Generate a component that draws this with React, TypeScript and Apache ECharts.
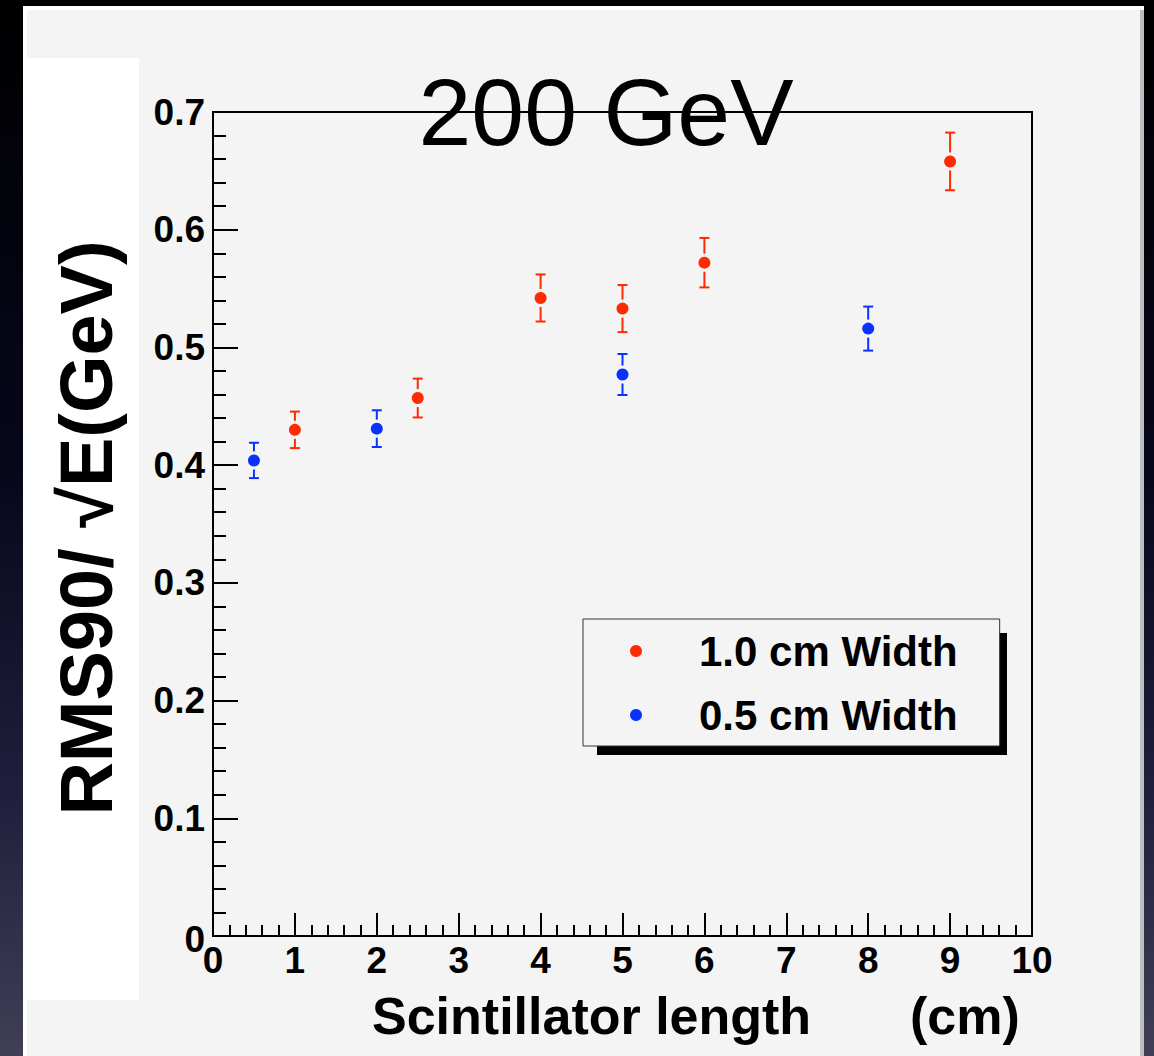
import React, { useEffect, useRef } from "react";
import * as echarts from "echarts";

const FONT = "'Liberation Sans', Arial, Helvetica, sans-serif";

const titleText = "200 GeV";
const xTitle = "Scintillator length";
const xUnit = "(cm)";
const yTitle = "RMS90/ \u221AE(GeV)";
const seriesNames = ["1.0 cm Width", "0.5 cm Width"];
const seriesColors = ["#ff2a00", "#0a32ff"];

const redX = [1, 2.5, 4, 5, 6, 9];
const redY = [0.430, 0.457, 0.542, 0.533, 0.572, 0.658];
const redErr = [0.0155, 0.0165, 0.020, 0.020, 0.021, 0.0245];

const blueX = [0.5, 2, 5, 8];
const blueY = [0.404, 0.431, 0.477, 0.516];
const blueErr = [0.015, 0.0156, 0.0174, 0.0187];

const xMin = 0, xMax = 10, xStep = 1;
const yMin = 0, yMax = 0.7, yStep = 0.1;

function errRender(color: string) {
  return (params: any, api: any) => {
    const x = api.value(0), y = api.value(1), e = api.value(2);
    const c = api.coord([x, y]);
    const top = api.coord([x, y + e]);
    const bot = api.coord([x, y - e]);
    const gap = 9, half = 5;
    const st = { stroke: color, lineWidth: 2 };
    const children: any[] = [];
    if (c[1] - gap > top[1]) children.push({ type: "line", shape: { x1: c[0], y1: top[1], x2: c[0], y2: c[1] - gap }, style: st });
    children.push({ type: "line", shape: { x1: c[0] - half, y1: top[1], x2: c[0] + half, y2: top[1] }, style: st });
    if (c[1] + gap < bot[1]) children.push({ type: "line", shape: { x1: c[0], y1: c[1] + gap, x2: c[0], y2: bot[1] }, style: st });
    children.push({ type: "line", shape: { x1: c[0] - half, y1: bot[1], x2: c[0] + half, y2: bot[1] }, style: st });
    return { type: "group", children };
  };
}

export default function App() {
  const ref = useRef<HTMLDivElement>(null);
  useEffect(() => {
    const chart = echarts.init(ref.current!, undefined, { renderer: "svg" });
    const tickLine = { color: "#000", width: 2 };
    const labelStyle = { fontSize: 37, fontWeight: "bold" as const, color: "#000", fontFamily: FONT };
    const option: any = {
      animation: false,
      backgroundColor: new echarts.graphic.LinearGradient(0, 0, 0, 1, [
        { offset: 0, color: "#000000" },
        { offset: 0.45, color: "#07071c" },
        { offset: 0.75, color: "#1f1f3d" },
        { offset: 1, color: "#403f57" },
      ]),
      grid: { left: 213, top: 112, right: 122, bottom: 120, show: false },
      xAxis: {
        type: "value", min: xMin, max: xMax, interval: xStep,
        axisLine: { show: true, lineStyle: tickLine },
        axisTick: { show: true, inside: true, length: 23, lineStyle: tickLine },
        minorTick: { show: true, splitNumber: 5, length: 11, lineStyle: tickLine },
        splitLine: { show: false },
        axisLabel: { ...labelStyle, margin: 6 },
      },
      yAxis: {
        type: "value", min: yMin, max: yMax, interval: yStep,
        axisLine: { show: true, lineStyle: tickLine },
        axisTick: { show: true, inside: true, length: 25, lineStyle: tickLine },
        minorTick: { show: true, splitNumber: 5, length: 13, lineStyle: tickLine },
        splitLine: { show: false },
        axisLabel: {
          ...labelStyle, margin: 8,
          formatter: (v: number) => (v === 0 ? "{zero|0}" : v.toFixed(1)),
          rich: { zero: { ...labelStyle, padding: [6, 0, 0, 0] } },
        },
      },
      legend: {
        orient: "vertical", left: 583, top: 619,
        data: [
          { name: seriesNames[0], icon: "circle" },
          { name: seriesNames[1], icon: "circle" },
        ],
        itemWidth: 12, itemHeight: 12, itemGap: 14,
        padding: [7, 42, 6, 47],
        backgroundColor: "#f4f4f4", borderColor: "#333", borderWidth: 1,
        selectedMode: false,
        textStyle: { fontSize: 42, fontWeight: "bold", color: "#000", fontFamily: FONT, padding: [0, 0, 0, 52], lineHeight: 50 },
      },
      graphic: [
        { type: "rect", z: -20, shape: { x: 23, y: 6, width: 1121, height: 1060 }, style: { fill: "#ffffff" } },
        { type: "rect", z: -19, shape: { x: 27, y: 10, width: 1113, height: 1056 }, style: { fill: "#f4f4f4" } },
        { type: "rect", z: -19, shape: { x: 1140, y: 10, width: 4, height: 1056 }, style: { fill: "#bdbdbd" } },
        { type: "rect", z: -18, shape: { x: 27, y: 58, width: 112, height: 942 }, style: { fill: "#ffffff" } },
        { type: "rect", z: 1, shape: { x: 597, y: 633, width: 410, height: 122 }, style: { fill: "#000" } },
        { type: "text", z: 5, style: { text: titleText, x: 606, y: 112, align: "center", verticalAlign: "middle", fontSize: 95, fontFamily: FONT, fill: "#000" } },
        { type: "rect", z: 10, shape: { x: 213, y: 112, width: 819, height: 824 }, style: { fill: "none", stroke: "#000", lineWidth: 2 } },
        { type: "text", z: 5, style: { text: xTitle, x: 372, y: 1016, align: "left", verticalAlign: "middle", fontSize: 52, fontWeight: "bold", fontFamily: FONT, fill: "#000" } },
        { type: "text", z: 5, style: { text: xUnit, x: 910, y: 1016, align: "left", verticalAlign: "middle", fontSize: 52, fontWeight: "bold", fontFamily: FONT, fill: "#000" } },
        { type: "text", z: 5, x: 86, y: 528, rotation: Math.PI / 2, style: { text: yTitle, x: 0, y: 0, align: "center", verticalAlign: "middle", fontSize: 74, fontWeight: "bold", fontFamily: FONT, fill: "#000" } },
      ],
      series: [
        {
          name: seriesNames[0] + " errors", type: "custom", renderItem: errRender(seriesColors[0]),
          data: redX.map((x, i) => [x, redY[i], redErr[i]]), encode: { x: 0, y: 1 }, z: 3, silent: true,
        },
        {
          name: seriesNames[1] + " errors", type: "custom", renderItem: errRender(seriesColors[1]),
          data: blueX.map((x, i) => [x, blueY[i], blueErr[i]]), encode: { x: 0, y: 1 }, z: 3, silent: true,
        },
        {
          name: seriesNames[0], type: "scatter", symbol: "circle", symbolSize: 12,
          itemStyle: { color: seriesColors[0], opacity: 1 }, data: redX.map((x, i) => [x, redY[i]]), z: 4,
        },
        {
          name: seriesNames[1], type: "scatter", symbol: "circle", symbolSize: 12,
          itemStyle: { color: seriesColors[1], opacity: 1 }, data: blueX.map((x, i) => [x, blueY[i]]), z: 4,
        },
      ],
    };
    chart.setOption(option);
    return () => chart.dispose();
  }, []);
  return <div ref={ref} style={{ position: "absolute", left: 0, top: 0, width: 1154, height: 1056 }} />;
}
